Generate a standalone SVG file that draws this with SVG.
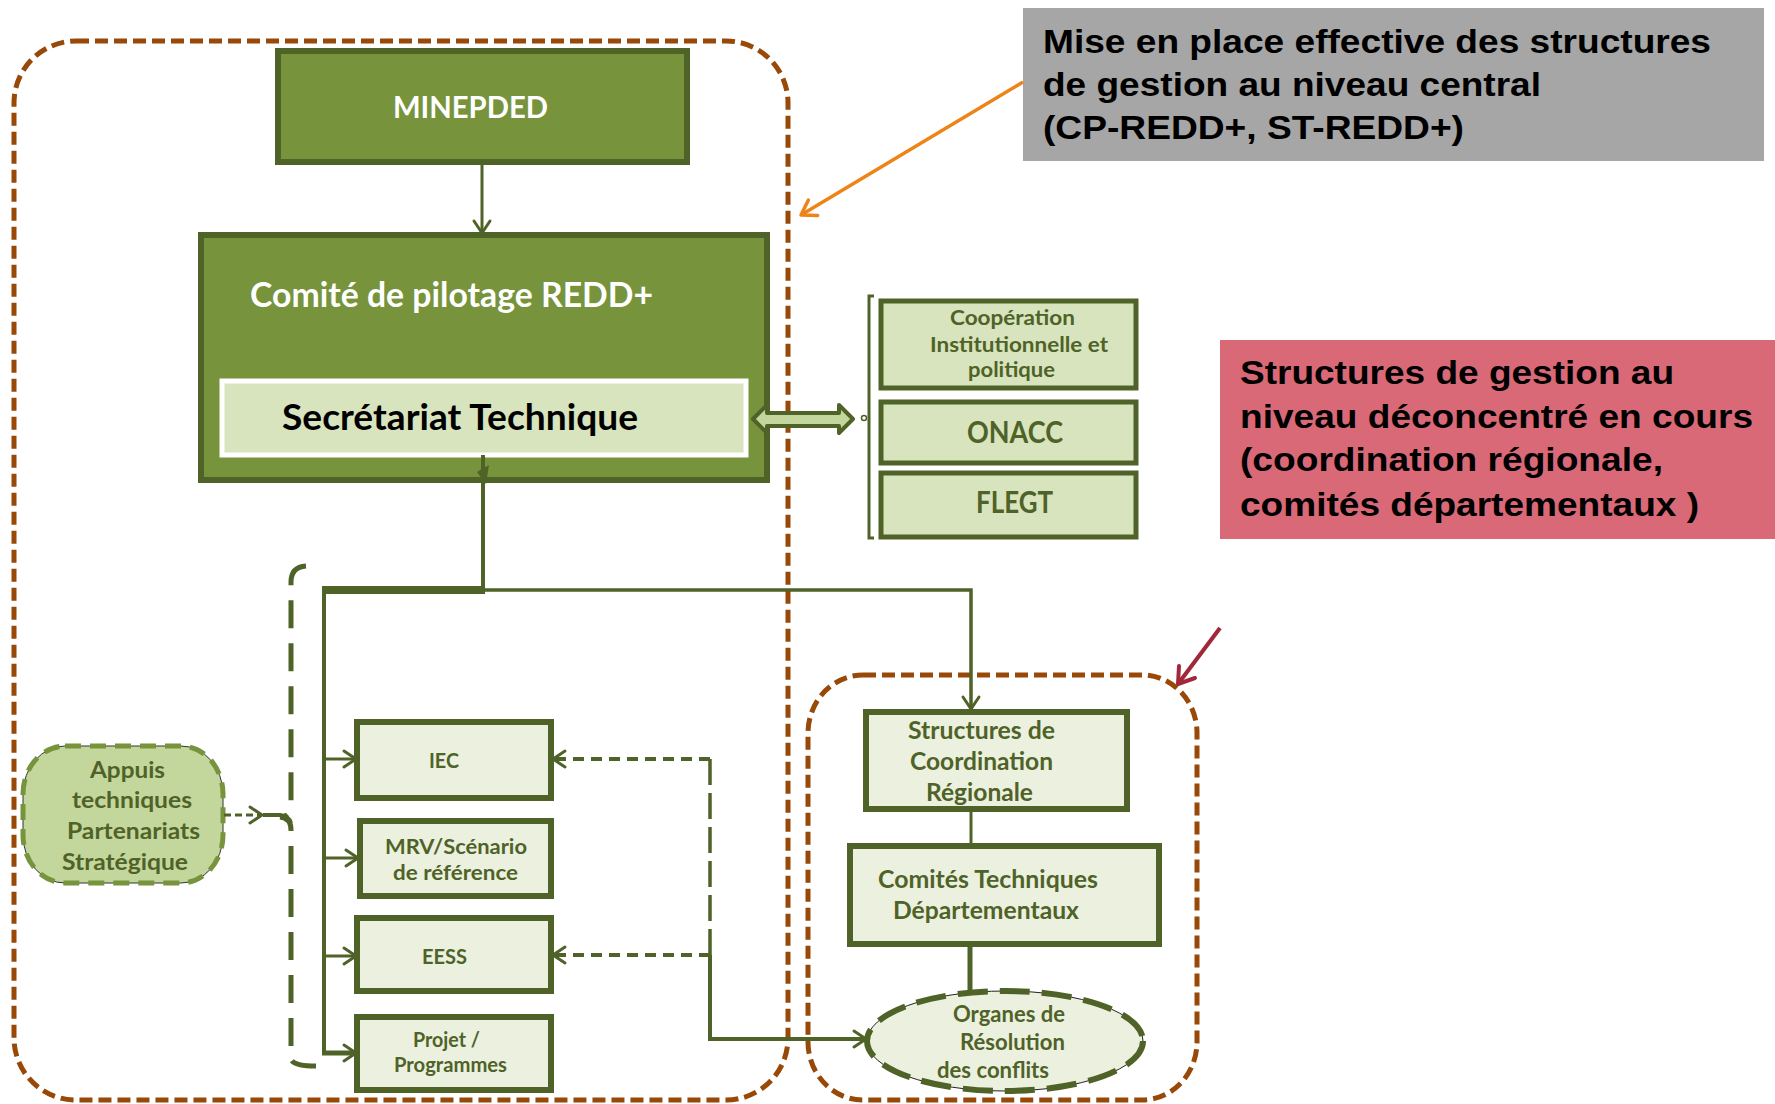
<svg xmlns="http://www.w3.org/2000/svg" width="1775" height="1104" viewBox="0 0 1775 1104">
<defs>
<style>
.bdark{fill:#77933C;stroke:#4F6228;stroke-width:6}
.blight{fill:#EBF1DE;stroke:#4F6228;stroke-width:6}
.bmid{fill:#D7E4BD;stroke:#4F6228;stroke-width:5}
.cal{font-family:Lato,'Noto Sans',sans-serif;font-weight:700;fill:#4F6228}
.calw{font-family:Lato,'Noto Sans',sans-serif;font-weight:700;fill:#FFFFFF}
.ar{font-family:'Liberation Sans',Arial,sans-serif;font-weight:700;fill:#000000}
.brown{fill:none;stroke:#984807;stroke-width:5;stroke-dasharray:13 6}
.conn{fill:none;stroke:#4F6228}
</style>
<marker id="arrG" markerUnits="userSpaceOnUse" markerWidth="24" markerHeight="24" viewBox="0 0 24 24" refX="21" refY="12" orient="auto"><path d="M9,4 L21,12 L9,20" fill="none" stroke="#4F6228" stroke-width="3" stroke-linejoin="round" stroke-linecap="round"/></marker>
<marker id="arrO" markerUnits="userSpaceOnUse" markerWidth="26" markerHeight="26" viewBox="0 0 26 26" refX="23" refY="13" orient="auto"><path d="M9,4 L23,13 L9,22" fill="none" stroke="#EE8418" stroke-width="3.5" stroke-linejoin="round" stroke-linecap="round"/></marker>
<marker id="arrR" markerUnits="userSpaceOnUse" markerWidth="28" markerHeight="28" viewBox="0 0 28 28" refX="25" refY="14" orient="auto"><path d="M10,4 L25,14 L10,24" fill="none" stroke="#A0283A" stroke-width="4" stroke-linejoin="round" stroke-linecap="round"/></marker>
</defs>
<rect width="1775" height="1104" fill="#FFFFFF"/>

<g id="zone-central">
<rect class="brown" x="14" y="41" width="774" height="1059" rx="62" ry="62"/>
</g>
<g id="zone-deconcentre">
<rect class="brown" x="808" y="675" width="389" height="425" rx="55" ry="58"/>
</g>

<g id="minepded">
<rect class="bdark" x="278" y="51" width="409" height="111"/>
<text class="calw" x="393" y="118" font-size="31" textLength="155" lengthAdjust="spacingAndGlyphs">MINEPDED</text>
</g>

<g id="comite-pilotage">
<rect class="bdark" x="201" y="235" width="566" height="245"/>
<text class="calw" x="250" y="307" font-size="34" textLength="403" lengthAdjust="spacingAndGlyphs">Comité de pilotage REDD+</text>
</g>

<g id="secretariat">
<rect x="222" y="381" width="524" height="74" fill="#D7E4BD" stroke="#FFFFFF" stroke-width="5"/>
<text x="282" y="430" font-family="Lato,'Noto Sans',sans-serif" font-weight="700" font-size="36" fill="#000000" textLength="356" lengthAdjust="spacingAndGlyphs">Secrétariat Technique</text>
</g>

<g id="cooperation">
<rect class="bmid" x="881" y="301" width="255" height="87"/>
<text class="cal" x="950" y="325" font-size="21" textLength="125" lengthAdjust="spacingAndGlyphs">Coopération</text>
<text class="cal" x="930" y="352" font-size="21" textLength="178" lengthAdjust="spacingAndGlyphs">Institutionnelle et</text>
<text class="cal" x="968" y="377" font-size="21" textLength="87" lengthAdjust="spacingAndGlyphs">politique</text>
</g>
<g id="onacc">
<rect class="bmid" x="881" y="402" width="255" height="61"/>
<text class="cal" x="967" y="443" font-size="31" textLength="96" lengthAdjust="spacingAndGlyphs">ONACC</text>
</g>
<g id="flegt">
<rect class="bmid" x="881" y="473" width="255" height="64"/>
<text class="cal" x="976" y="513" font-size="31" textLength="77" lengthAdjust="spacingAndGlyphs">FLEGT</text>
</g>

<g id="note-central">
<rect x="1023" y="8" width="741" height="153" fill="#A6A6A6"/>
<text class="ar" x="1043" y="53" font-size="33" textLength="668" lengthAdjust="spacingAndGlyphs">Mise en place effective des structures</text>
<text class="ar" x="1043" y="96" font-size="33" textLength="498" lengthAdjust="spacingAndGlyphs">de gestion au niveau central</text>
<text class="ar" x="1043" y="139" font-size="33" textLength="421" lengthAdjust="spacingAndGlyphs">(CP-REDD+, ST-REDD+)</text>
</g>

<g id="note-deconcentre">
<rect x="1220" y="340" width="555" height="199" fill="#DA6977"/>
<text class="ar" x="1240" y="384" font-size="33" textLength="434" lengthAdjust="spacingAndGlyphs">Structures de gestion au</text>
<text class="ar" x="1240" y="428" font-size="33" textLength="513" lengthAdjust="spacingAndGlyphs">niveau déconcentré en cours</text>
<text class="ar" x="1240" y="471" font-size="33" textLength="423" lengthAdjust="spacingAndGlyphs">(coordination régionale,</text>
<text class="ar" x="1240" y="516" font-size="33" textLength="459" lengthAdjust="spacingAndGlyphs">comités départementaux )</text>
</g>

<g id="appuis">
<rect x="23" y="746" width="200" height="137" rx="42" ry="48" fill="#C3D69B" stroke="#333333" stroke-width="1"/>
<rect x="23" y="746" width="200" height="137" rx="42" ry="48" fill="none" stroke="#77933C" stroke-width="5" stroke-dasharray="16 9"/>
<text class="cal" x="90" y="778" font-size="23" textLength="75" lengthAdjust="spacingAndGlyphs">Appuis</text>
<text class="cal" x="72" y="808" font-size="23" textLength="120" lengthAdjust="spacingAndGlyphs">techniques</text>
<text class="cal" x="67" y="839" font-size="23" textLength="133" lengthAdjust="spacingAndGlyphs">Partenariats</text>
<text class="cal" x="62" y="870" font-size="23" textLength="126" lengthAdjust="spacingAndGlyphs">Stratégique</text>
</g>

<g id="iec">
<rect class="blight" x="357" y="722" width="194" height="76"/>
<text class="cal" x="429" y="768" font-size="21" textLength="30" lengthAdjust="spacingAndGlyphs">IEC</text>
</g>
<g id="mrv">
<rect class="blight" x="360" y="821" width="191" height="75"/>
<text class="cal" x="385" y="854" font-size="21" textLength="142" lengthAdjust="spacingAndGlyphs">MRV/Scénario</text>
<text class="cal" x="393" y="880" font-size="21" textLength="125" lengthAdjust="spacingAndGlyphs">de référence</text>
</g>
<g id="eess">
<rect class="blight" x="357" y="918" width="194" height="73"/>
<text class="cal" x="422" y="964" font-size="21" textLength="45" lengthAdjust="spacingAndGlyphs">EESS</text>
</g>
<g id="projet">
<rect class="blight" x="357" y="1017" width="194" height="73"/>
<text class="cal" x="413" y="1047" font-size="20" textLength="67" lengthAdjust="spacingAndGlyphs">Projet /</text>
<text class="cal" x="394" y="1072" font-size="20" textLength="113" lengthAdjust="spacingAndGlyphs">Programmes</text>
</g>

<g id="structures-regionales">
<rect class="blight" x="866" y="712" width="261" height="97"/>
<text class="cal" x="908" y="739" font-size="24" textLength="147" lengthAdjust="spacingAndGlyphs">Structures de</text>
<text class="cal" x="910" y="770" font-size="24" textLength="143" lengthAdjust="spacingAndGlyphs">Coordination</text>
<text class="cal" x="926" y="801" font-size="24" textLength="107" lengthAdjust="spacingAndGlyphs">Régionale</text>
</g>
<g id="comites-departementaux">
<rect class="blight" x="850" y="846" width="309" height="98"/>
<text class="cal" x="878" y="888" font-size="24" textLength="220" lengthAdjust="spacingAndGlyphs">Comités Techniques</text>
<text class="cal" x="893" y="919" font-size="24" textLength="186" lengthAdjust="spacingAndGlyphs">Départementaux</text>
</g>
<g id="organes">
<ellipse cx="1005" cy="1041" rx="138" ry="50" fill="#EBF1DE" stroke="#222222" stroke-width="1"/>
<ellipse cx="1005" cy="1041" rx="138" ry="50" fill="none" stroke="#4F6228" stroke-width="6" stroke-dasharray="30 12"/>
<text class="cal" x="953" y="1022" font-size="22" textLength="112" lengthAdjust="spacingAndGlyphs">Organes de</text>
<text class="cal" x="960" y="1050" font-size="22" textLength="105" lengthAdjust="spacingAndGlyphs">Résolution</text>
<text class="cal" x="937" y="1078" font-size="22" textLength="112" lengthAdjust="spacingAndGlyphs">des conflits</text>
</g>

<g id="connectors">
<line class="conn" x1="482" y1="163" x2="482" y2="233" stroke-width="3" marker-end="url(#arrG)"/>
<line class="conn" x1="483" y1="455" x2="483" y2="590" stroke-width="4"/>
<polygon points="477,472 489,465 486,484" fill="#4F6228"/>
<line class="conn" x1="322" y1="590" x2="485" y2="590" stroke-width="8"/>
<polyline class="conn" points="483,590 971,590 971,709" stroke-width="3.5" marker-end="url(#arrG)"/>
<line class="conn" x1="324" y1="587" x2="324" y2="1054" stroke-width="4"/>
<line class="conn" x1="324" y1="759" x2="356" y2="759" stroke-width="3" marker-end="url(#arrG)"/>
<line class="conn" x1="324" y1="858" x2="358" y2="858" stroke-width="3" marker-end="url(#arrG)"/>
<line class="conn" x1="324" y1="956" x2="356" y2="956" stroke-width="3" marker-end="url(#arrG)"/>
<line class="conn" x1="322" y1="1053" x2="356" y2="1053" stroke-width="5" marker-end="url(#arrG)"/>
<path class="conn" d="M306,566 Q291,567 291,582 L291,804 Q291,817 280,817 Q291,818 291,830 L291,1058 Q291,1066 316,1066" stroke-width="5" stroke-dasharray="28 15"/>
<line class="conn" x1="224" y1="815" x2="262" y2="815" stroke-width="3" stroke-dasharray="7 4" marker-end="url(#arrG)"/>
<path class="conn" d="M263,815 L280,815 Q289,816 291,823" stroke-width="4"/>
<line class="conn" x1="710" y1="759" x2="710" y2="955" stroke-width="3.5" stroke-dasharray="26 8"/>
<line class="conn" x1="710" y1="759" x2="553" y2="759" stroke-width="4" stroke-dasharray="11 7" marker-end="url(#arrG)"/>
<line class="conn" x1="710" y1="955" x2="553" y2="955" stroke-width="4" stroke-dasharray="11 7" marker-end="url(#arrG)"/>
<polyline class="conn" points="710,955 710,1039 866,1039" stroke-width="4" marker-end="url(#arrG)"/>
<line class="conn" x1="971" y1="809" x2="971" y2="846" stroke-width="3"/>
<line class="conn" x1="970" y1="944" x2="970" y2="993" stroke-width="5"/>
<polygon points="753,419 767,405 767,413 839,413 839,405 853,419 839,433 839,426 767,426 767,433" fill="#C3D69B" stroke="#4F6228" stroke-width="4" stroke-linejoin="round"/>
<path class="conn" d="M874,296 L869,296 L869,538 L874,538" stroke-width="3"/>
<circle cx="864" cy="418" r="2.5" fill="#FFFFFF" stroke="#4F6228" stroke-width="1.5"/>
<line x1="1023" y1="82" x2="801" y2="215" stroke="#EE8418" stroke-width="3.5" marker-end="url(#arrO)"/>
<line x1="1220" y1="628" x2="1178" y2="684" stroke="#A0283A" stroke-width="4" marker-end="url(#arrR)"/>
</g>
</svg>
